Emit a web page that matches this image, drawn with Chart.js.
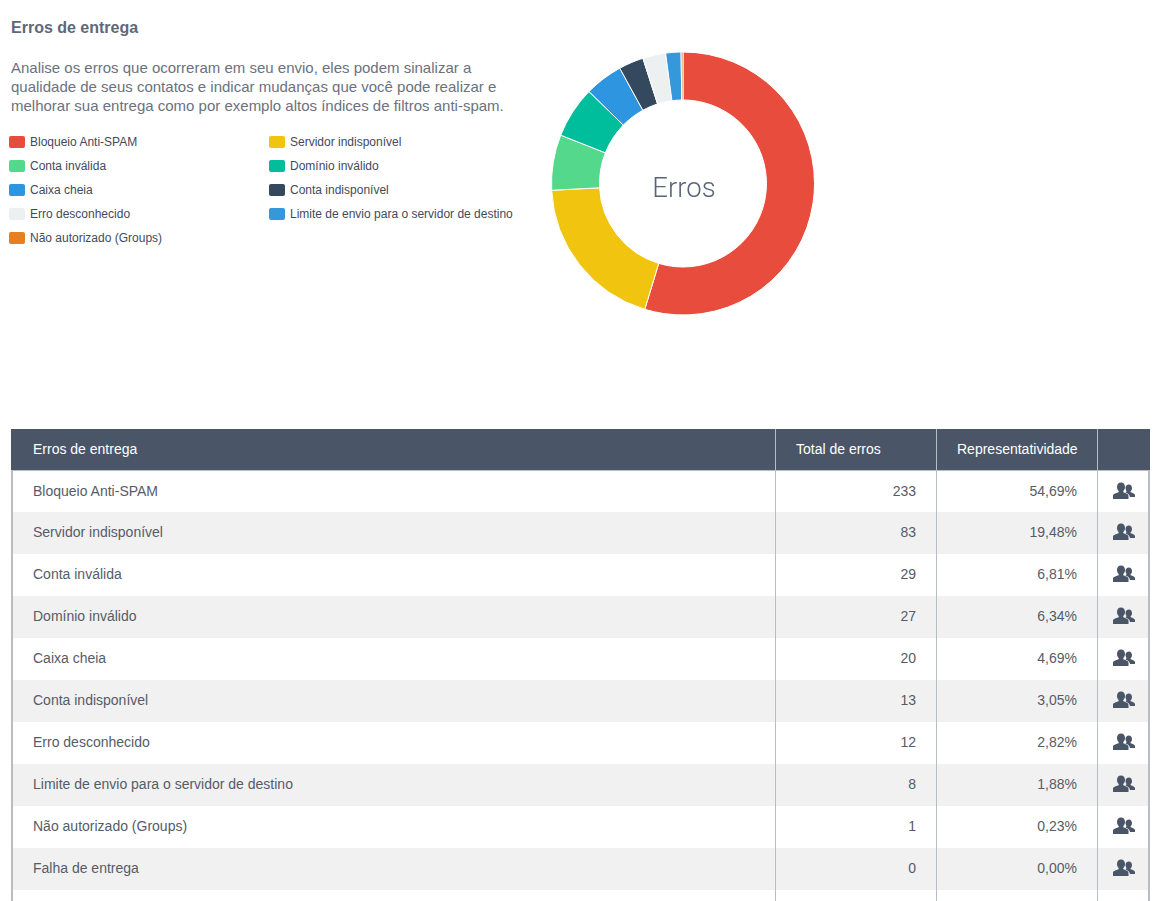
<!DOCTYPE html>
<html lang="pt-BR">
<head>
<meta charset="utf-8">
<title>Erros de entrega</title>
<script src="https://cdn.jsdelivr.net/npm/chart.js"></script>
<style>
html, body { margin: 0; padding: 0; background: #fff; height: 901px; overflow: hidden; }
body { position: relative; font-family: "Liberation Sans", Arial, sans-serif; color: #5a6270; }
h1 { position: absolute; left: 11px; top: 18px; margin: 0; font-size: 16px; line-height: 20px; font-weight: bold; color: #5f6878; }
.intro { position: absolute; left: 11px; top: 58px; width: 510px; margin: 0; font-size: 15px; line-height: 19px; color: #6a7280; }
#legenda { position: absolute; left: 9px; top: 130px; width: 520px; }
.leg-item { position: absolute; height: 24px; line-height: 24px; font-size: 12px; color: #3f4a5c; white-space: nowrap; }
.leg-item i { position: absolute; left: 0; top: 6px; width: 16px; height: 12px; border-radius: 2px; }
.leg-item span { position: absolute; left: 21px; }
#donut { position: absolute; left: 551px; top: 51px; width: 264px; height: 265px; }
.centro { position: absolute; left: 584px; top: 170px; width: 200px; text-align: center; font-family: Roboto, sans-serif; font-weight: 300; font-size: 27.5px; line-height: 36px; color: #5a6478; }
table { position: absolute; left: 11px; top: 429px; width: 1139px; border-collapse: separate; border-spacing: 0; table-layout: fixed; font-size: 14px; }
th { height: 41px; box-sizing: border-box; background: #4a5568; color: #fff; font-weight: normal; padding: 0 20px 2px; text-align: left; border-left: 1px solid #b8bdc4; border-bottom: 1px solid #b8bdc4; }
th:first-child { border-left: 0; padding-left: 22px; }
thead tr { height: 42px; }
td { height: 42px; padding: 0 20px 2px; box-sizing: border-box; color: #555c68; border-left: 1px solid #b8bdc4; text-align: right; }
td:first-child { border-left: 2px solid #b8bdc4; text-align: left; padding-left: 20px; }
td:last-child { border-right: 2px solid #b8bdc4; text-align: center; padding: 0 0 2px; }
tbody tr:first-child td { height: 41px; }
tbody tr:nth-child(even) td { background: #f1f1f1; }
td svg { display: block; margin: 0 auto; position: relative; left: 1px; }
</style>
</head>
<body>
<h1>Erros de entrega</h1>
<p class="intro">Analise os erros que ocorreram em seu envio, eles podem sinalizar a<br>qualidade de seus contatos e indicar mudanças que você pode realizar e<br>melhorar sua entrega como por exemplo altos índices de filtros anti-spam.</p>
<div id="legenda"></div>
<div id="donut"><canvas id="grafico"></canvas></div>
<div class="centro">Erros</div>
<table>
  <colgroup><col style="width:764px"><col style="width:161px"><col style="width:161px"><col style="width:53px"></colgroup>
  <thead><tr><th>Erros de entrega</th><th>Total de erros</th><th>Representatividade</th><th></th></tr></thead>
  <tbody id="linhas"></tbody>
</table>
<script>
// dados
const categorias = ['Bloqueio Anti-SPAM', 'Servidor indisponível', 'Conta inválida', 'Domínio inválido', 'Caixa cheia', 'Conta indisponível', 'Erro desconhecido', 'Limite de envio para o servidor de destino', 'Não autorizado (Groups)', 'Falha de entrega'];
const totais = [233, 83, 29, 27, 20, 13, 12, 8, 1, 0];
const percentuais = ['54,69%', '19,48%', '6,81%', '6,34%', '4,69%', '3,05%', '2,82%', '1,88%', '0,23%', '0,00%'];
const cores = ['#e74c3c', '#f1c40f', '#54d98c', '#00bd9c', '#2e96e0', '#34495e', '#ecf0f1', '#3498db', '#e67e22', '#9b59b6'];

// legenda em duas colunas (a categoria sem erros fica de fora)
const legendItems = categorias.slice(0, 9).map((nome, i) => {
    const left = i % 2 ? 260 : 0;
    const top = Math.floor(i / 2) * 24;
    return `<div class="leg-item" style="left:${left}px;top:${top}px"><i style="background:${cores[i]}"></i><span>${nome}</span></div>`;
});
document.getElementById('legenda').innerHTML = legendItems.join('');

const iconeUsuarios = `<svg width="22" height="18" viewBox="0 0 22 18" aria-hidden="true"><path fill="#4a5568" d="M8 .5c2.600 0 4 2 4 4.400 0 1.700-.7 3.200-1.700 4v1.300c2.800.8 5.200 1.800 5.200 3.500V17H0v-3.300c0-1.700 2.900-2.700 5.700-3.500V8.900C4.700 8.100 4 6.600 4 4.900 4 2.500 5.400.5 8 .5z"/><path fill="#4a5568" d="M15.800 2.500c2 0 3.200 1.600 3.200 3.500 0 1.400-.6 2.600-1.400 3.200v1.100c2.300.6 4.400 1.500 4.400 3V15h-5c-.1-2.300-2.200-3.700-4.500-4.600.6-.4 1-.8 1-1.200 0-.5-1-1.700-1-3.200 0-2 1.500-3.500 3.300-3.500z"/></svg>`;
document.getElementById('linhas').innerHTML = categorias.map((nome, i) =>
    `<tr><td>${nome}</td><td>${totais[i]}</td><td>${percentuais[i]}</td><td>${iconeUsuarios}</td></tr>`
).join('') + '<tr><td></td><td></td><td></td><td></td></tr>';

new Chart(document.getElementById('grafico').getContext('2d'), {
    type: 'doughnut',
    data: { labels: categorias, datasets: [{ data: totais, backgroundColor: cores, borderColor: '#fff', borderWidth: 1 }] },
    options: {
        responsive: true,
        maintainAspectRatio: false,
        animation: false,
        cutout: '63.5%',
        plugins: { legend: { display: false }, tooltip: { enabled: false } }
    }
});
</script>
</body>
</html>
